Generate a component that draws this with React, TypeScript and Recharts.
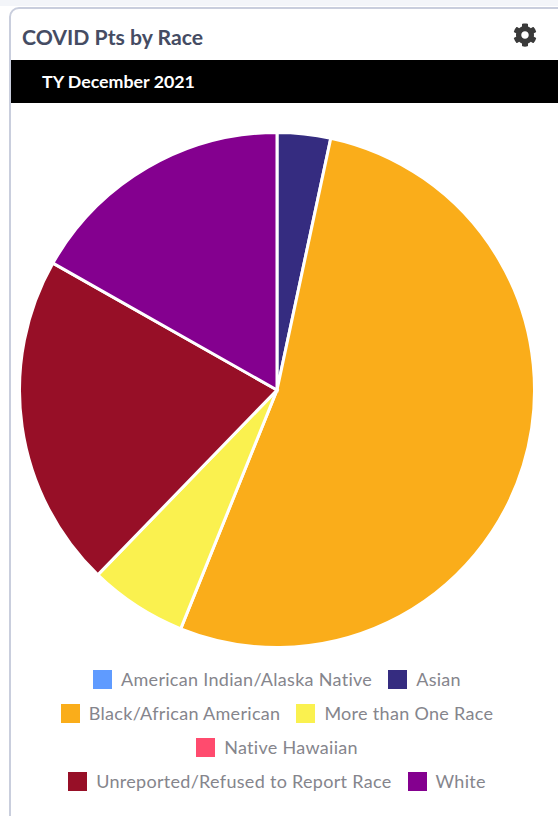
import { PieChart, Pie, Legend } from 'recharts';

const categories = [
  'American Indian/Alaska Native',
  'Asian',
  'Black/African American',
  'More than One Race',
  'Native Hawaiian',
  'Unreported/Refused to Report Race',
  'White',
];
const values = [0, 3.35, 52.75, 6.15, 0, 20.95, 16.8];
const colors = ['#5f9bff', '#352c80', '#faad1a', '#faf14f', '#ff4b6e', '#970f27', '#84008f'];

const data = categories.map((name, i) => ({ name, value: values[i], fill: colors[i] }));

const FONT = 'Lato, "Noto Sans", sans-serif';
const GEAR =
  'M487.4 315.7l-42.6-24.6c4.3-23.2 4.3-47 0-70.2l42.6-24.6c4.9-2.8 7.1-8.6 5.5-14-11.1-35.6-30-67.8-54.7-94.6-3.8-4.1-10-5.1-14.8-2.3L380.8 110c-17.9-15.4-38.5-27.3-60.8-35.1V25.8c0-5.6-3.9-10.5-9.4-11.7-36.7-8.2-74.3-7.8-109.2 0-5.5 1.2-9.4 6.1-9.4 11.7V75c-22.2 7.9-42.8 19.8-60.8 35.1L88.7 85.5c-4.9-2.8-11-1.9-14.8 2.3-24.7 26.7-43.6 58.9-54.7 94.6-1.7 5.4.6 11.2 5.5 14L67.3 221c-4.3 23.2-4.3 47 0 70.2l-42.6 24.6c-4.9 2.8-7.1 8.6-5.5 14 11.1 35.6 30 67.8 54.7 94.6 3.8 4.1 10 5.1 14.8 2.3l42.6-24.6c17.9 15.4 38.5 27.3 60.8 35.1v49.2c0 5.6 3.9 10.5 9.4 11.7 36.7 8.2 74.3 7.8 109.2 0 5.5-1.2 9.4-6.1 9.4-11.7v-49.2c22.2-7.9 42.8-19.8 60.8-35.1l42.6 24.6c4.9 2.8 11 1.9 14.8-2.3 24.7-26.7 43.6-58.9 54.7-94.6 1.5-5.5-.7-11.3-5.6-14.1zM256 336c-44.1 0-80-35.9-80-80s35.9-80 80-80 80 35.9 80 80-35.9 80-80 80z';

const RaceLegend = ({ payload }: any) => (
  <div style={{ textAlign: 'center', lineHeight: '34px', fontSize: 18, letterSpacing: 0.3, color: '#85858c' }}>
    {(payload || []).map((item: any) => (
      <span key={item.value} style={{ display: 'inline-block', margin: '0 8px', whiteSpace: 'nowrap' }}>
        <span
          style={{
            display: 'inline-block',
            width: 19,
            height: 19,
            marginRight: 9,
            background: item.payload?.fill ?? item.color,
            verticalAlign: -3,
          }}
        />
        {item.value}
      </span>
    ))}
  </div>
);

export default function App() {
  return (
    <div style={{ position: 'absolute', left: 0, top: 0, width: 558, height: 816, background: '#fff', overflow: 'hidden', fontFamily: FONT }}>
      <div style={{ position: 'absolute', left: 0, top: 0, width: 558, height: 6, background: '#f3f5f9' }} />
      <div
        style={{
          position: 'absolute',
          left: 9,
          top: 7,
          width: 560,
          height: 830,
          boxSizing: 'border-box',
          border: '2px solid #c9cedd',
          borderRadius: 10,
        }}
      />
      <div style={{ position: 'absolute', left: 22, top: 23, fontSize: 21.2, fontWeight: 700, color: '#454c63', lineHeight: '28px' }}>
        COVID Pts by Race
      </div>
      <svg style={{ position: 'absolute', left: 513, top: 23 }} width={24} height={24} viewBox="0 0 512 512">
        <path d={GEAR} fill="#3a3a3a" />
      </svg>
      <div style={{ position: 'absolute', left: 11, top: 60, width: 547, height: 43, background: '#000' }} />
      <div style={{ position: 'absolute', left: 42, top: 69, fontSize: 17.8, fontWeight: 700, color: '#fff', lineHeight: '24px' }}>
        TY December 2021
      </div>
      <div style={{ position: 'absolute', left: 0, top: 0 }}>
        <PieChart width={558} height={816} margin={{ top: 0, right: 0, bottom: 0, left: 0 }}>
          <Pie
            data={data}
            dataKey="value"
            nameKey="name"
            cx={277}
            cy={390}
            outerRadius={257.5}
            startAngle={90}
            endAngle={-270}
            stroke="#fff"
            strokeWidth={3}
            isAnimationActive={false}
          />
          <Legend
            content={<RaceLegend />}
            wrapperStyle={{ position: 'absolute', left: 32, top: 662, width: 490 }}
          />
        </PieChart>
      </div>
    </div>
  );
}
